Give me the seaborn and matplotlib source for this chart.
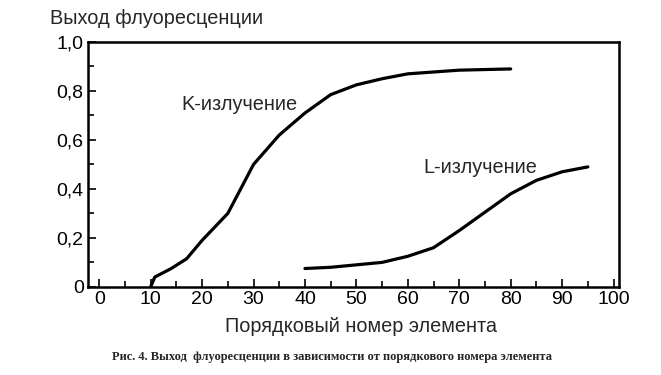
import matplotlib
matplotlib.use("Agg")
import matplotlib.pyplot as plt
from matplotlib.ticker import MultipleLocator, FuncFormatter
import seaborn as sns
import pandas as pd

k_x = [10, 10.8, 14, 17, 20, 25, 30, 35, 40, 45, 50, 55, 60, 70, 80]
k_y = [0, 0.04, 0.075, 0.115, 0.19, 0.30, 0.50, 0.62, 0.71, 0.785, 0.825, 0.85, 0.87, 0.885, 0.89]
l_x = [40, 45, 50, 55, 60, 65, 70, 75, 80, 85, 90, 95]
l_y = [0.075, 0.08, 0.09, 0.10, 0.125, 0.16, 0.23, 0.305, 0.38, 0.435, 0.47, 0.49]
x_ticks = [0, 10, 20, 30, 40, 50, 60, 70, 80, 90, 100]
y_ticks = [0, 0.2, 0.4, 0.6, 0.8, 1.0]

df = pd.concat([
    pd.DataFrame({"x": k_x, "y": k_y, "s": "K"}),
    pd.DataFrame({"x": l_x, "y": l_y, "s": "L"}),
])

sns.set_style("white")
plt.rcParams["font.family"] = ["Liberation Sans", "DejaVu Sans"]

fig = plt.figure(figsize=(6.61, 3.75), dpi=100)
ax = fig.add_axes([0.133, 0.235, 0.803, 0.653])
sns.lineplot(data=df, x="x", y="y", units="s", estimator=None, color="black",
             linewidth=2.3, sort=False, ax=ax, legend=False)

ax.set_xlim(-2.2, 101)
ax.set_ylim(0, 1.0)
ax.set_xticks(x_ticks)
ax.set_yticks(y_ticks)
ax.xaxis.set_minor_locator(MultipleLocator(5))
ax.yaxis.set_minor_locator(MultipleLocator(0.1))
ax.yaxis.set_major_formatter(FuncFormatter(lambda v, p: "0" if v == 0 else f"{v:.1f}".replace(".", ",")))
ax.tick_params(axis="both", which="major", direction="in", length=6, width=1.2, colors="black",
               labelsize=14, pad=3)
ax.tick_params(axis="both", which="minor", direction="in", length=4.5, width=1.2, colors="black")
ax.tick_params(axis="x", which="both", top=False, bottom=True)
ax.tick_params(axis="y", which="both", left=True, right=False)
for sp in ax.spines.values():
    sp.set_visible(True)
    sp.set_color("black")
    sp.set_linewidth(1.8)

ax.set_xlabel("Порядковый номер элемента", fontsize=14.3)
ax.xaxis.set_label_coords((361 - 88) / 531, -(327 - 287) / 245, transform=ax.transAxes)
ax.xaxis.label.set_va("center")
ax.set_ylabel("")
fig.text(50 / 661, 1 - 19 / 375, "Выход флуоресценции", fontsize=14.3, va="center", ha="left")

ax.text(16, 0.745, "K-излучение", fontsize=14.3, va="center", ha="left")
ax.text(63, 0.486, "L-излучение", fontsize=14.3, va="center", ha="left")

fig.text(332 / 661, 1 - 357 / 375,
         "Рис. 4. Выход  флуоресценции в зависимости от порядкового номера элемента",
         fontsize=9, fontweight="bold", family=["Liberation Serif", "DejaVu Serif"],
         ha="center", va="center")

fig.savefig("out.png", dpi=100)
